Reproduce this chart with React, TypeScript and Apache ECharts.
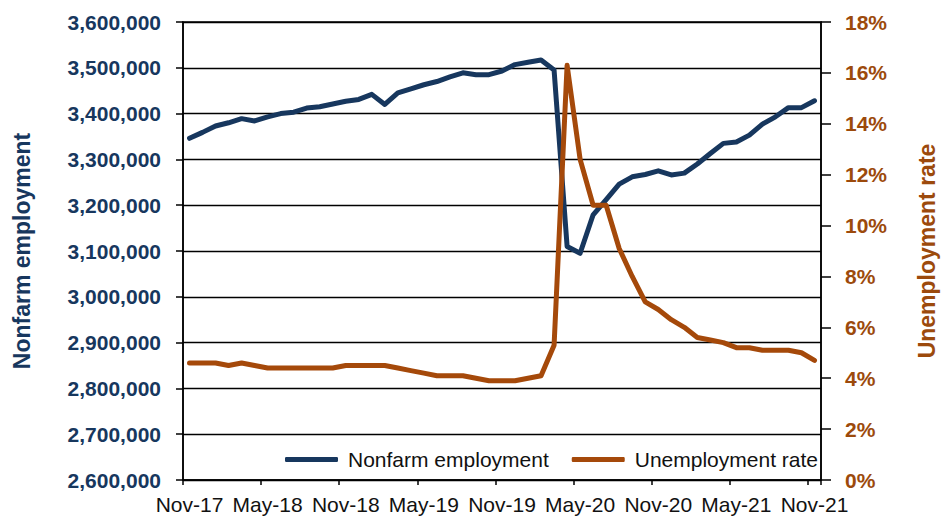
import React, { useEffect, useRef } from "react";
import * as echarts from "echarts";

const months = [
  "Nov-17", "Dec-17", "Jan-18", "Feb-18", "Mar-18", "Apr-18", "May-18", "Jun-18", "Jul-18", "Aug-18", "Sep-18", "Oct-18",
  "Nov-18", "Dec-18", "Jan-19", "Feb-19", "Mar-19", "Apr-19", "May-19", "Jun-19", "Jul-19", "Aug-19", "Sep-19", "Oct-19",
  "Nov-19", "Dec-19", "Jan-20", "Feb-20", "Mar-20", "Apr-20", "May-20", "Jun-20", "Jul-20", "Aug-20", "Sep-20", "Oct-20",
  "Nov-20", "Dec-20", "Jan-21", "Feb-21", "Mar-21", "Apr-21", "May-21", "Jun-21", "Jul-21", "Aug-21", "Sep-21", "Oct-21",
  "Nov-21",
];

const nonfarmEmployment = [
  3346000, 3359000, 3373000, 3380000, 3389000, 3384000, 3393000, 3400000, 3403000, 3412000, 3415000, 3421000,
  3427000, 3431000, 3442000, 3420000, 3445000, 3454000, 3463000, 3470000, 3480000, 3489000, 3485000, 3485000,
  3493000, 3507000, 3512000, 3517000, 3495000, 3110000, 3095000, 3179000, 3212000, 3246000, 3262000, 3267000,
  3275000, 3266000, 3270000, 3290000, 3313000, 3335000, 3338000, 3353000, 3377000, 3393000, 3413000, 3413000,
  3428000,
];

const unemploymentRate = [
  4.6, 4.6, 4.6, 4.5, 4.6, 4.5, 4.4, 4.4, 4.4, 4.4, 4.4, 4.4,
  4.5, 4.5, 4.5, 4.5, 4.4, 4.3, 4.2, 4.1, 4.1, 4.1, 4.0, 3.9,
  3.9, 3.9, 4.0, 4.1, 5.3, 16.3, 12.6, 10.8, 10.8, 9.1, 8.0, 7.0,
  6.7, 6.3, 6.0, 5.6, 5.5, 5.4, 5.2, 5.2, 5.1, 5.1, 5.1, 5.0,
  4.7,
];

const NAVY = "#17375E";
const ORANGE = "#A5490A";
const ORANGE_TEXT = "#9C4A0C";
const FONT = "'Liberation Sans', Arial, sans-serif";

export default function App() {
  const ref = useRef<HTMLDivElement>(null);

  useEffect(() => {
    if (!ref.current) return;
    const chart = echarts.init(ref.current, undefined, { renderer: "svg" });
    chart.setOption({
      animation: false,
      textStyle: { fontFamily: FONT },
      grid: {
        left: 183,
        right: 116,
        top: 22,
        bottom: 38,
        show: true,
        borderColor: "#000",
        borderWidth: 1.5,
        backgroundColor: "transparent",
      },
      legend: {
        left: 285,
        top: 449,
        padding: 0,
        itemWidth: 53,
        itemHeight: 5,
        itemGap: 23,
        icon: "roundRect",
        textStyle: { fontFamily: FONT, fontSize: 21, color: "#111", padding: [0, 0, 0, 5] },
        data: [
          { name: "Nonfarm employment", itemStyle: { color: NAVY } },
          { name: "Unemployment rate", itemStyle: { color: ORANGE } },
        ],
      },
      xAxis: {
        type: "category",
        data: months,
        boundaryGap: true,
        axisLine: { lineStyle: { color: "#000", width: 1.5 } },
        axisTick: { show: true, interval: 5, length: 5, lineStyle: { color: "#000", width: 1.5 } },
        axisLabel: {
          interval: 5,
          margin: 14,
          fontFamily: FONT,
          fontSize: 21,
          color: "#111",
        },
        splitLine: { show: false },
      },
      yAxis: [
        {
          type: "value",
          min: 2600000,
          max: 3600000,
          interval: 100000,
          name: "Nonfarm employment",
          nameLocation: "middle",
          nameRotate: 90,
          nameGap: 150,
          nameTextStyle: { fontFamily: FONT, fontSize: 23, fontWeight: "bold", color: NAVY },
          axisLine: { show: true, lineStyle: { color: "#000", width: 1.5 } },
          axisTick: { show: true, length: 7, lineStyle: { color: "#000", width: 1.5 } },
          axisLabel: {
            margin: 22,
            fontFamily: FONT,
            fontSize: 21,
            fontWeight: "bold",
            color: NAVY,
            formatter: (v: number) => v.toLocaleString("en-US"),
          },
          splitLine: { show: true, lineStyle: { color: "#000", width: 1.4 } },
        },
        {
          type: "value",
          min: 0,
          max: 18,
          interval: 2,
          position: "right",
          name: "Unemployment rate",
          nameLocation: "middle",
          nameRotate: 90,
          nameGap: 94,
          nameTextStyle: { fontFamily: FONT, fontSize: 23, fontWeight: "bold", color: ORANGE_TEXT },
          axisLine: { show: true, lineStyle: { color: "#000", width: 1.5 } },
          axisTick: { show: true, length: 10, lineStyle: { color: "#000", width: 1.5 } },
          axisLabel: {
            margin: 24,
            fontFamily: FONT,
            fontSize: 21,
            fontWeight: "bold",
            color: ORANGE_TEXT,
            formatter: "{value}%",
          },
          splitLine: { show: false },
        },
      ],
      series: [
        {
          name: "Nonfarm employment",
          type: "line",
          yAxisIndex: 0,
          data: nonfarmEmployment,
          showSymbol: false,
          symbol: "none",
          lineStyle: { color: NAVY, width: 5, cap: "round", join: "round" },
          itemStyle: { color: NAVY },
        },
        {
          name: "Unemployment rate",
          type: "line",
          yAxisIndex: 1,
          data: unemploymentRate,
          showSymbol: false,
          symbol: "none",
          lineStyle: { color: ORANGE, width: 5, cap: "round", join: "round" },
          itemStyle: { color: ORANGE },
        },
      ],
    });
    return () => chart.dispose();
  }, []);

  return (
    <div
      ref={ref}
      style={{ position: "fixed", left: 0, top: 0, width: 946, height: 518, background: "#fff" }}
    />
  );
}
